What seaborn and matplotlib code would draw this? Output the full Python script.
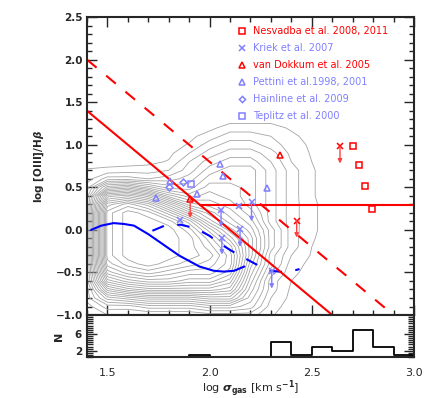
import numpy as np
import matplotlib
matplotlib.use('Agg')
import matplotlib.pyplot as plt
import seaborn as sns
from matplotlib.ticker import MultipleLocator, FixedLocator

# ---- data ----

# SDSS density grid (contour levels), x = log sigma, y = log [OIII]/Hb
grid_x = [1.4, 1.5, 1.6, 1.7, 1.8, 1.9, 2.0, 2.1, 2.2, 2.3, 2.4, 2.5, 2.6]
grid_y = [1.3, 1.2, 1.1, 1.0, 0.9, 0.8, 0.7, 0.6, 0.5, 0.4, 0.3, 0.2, 0.1,
          0.0, -0.1, -0.2, -0.3, -0.4, -0.5, -0.6, -0.7, -0.8, -0.9, -1.0, -1.1]
density = [
    [0, 0, 0, 0, 0, 0, 0, 0, 0, 0, 0, 0, 0],
    [0, 0, 0, 0, 0, 0, 0.2, 1, 1, 1, 0.3, 0, 0],
    [0, 0, 0, 0, 0, 0.2, 1, 2, 2, 1.5, 0.8, 0, 0],
    [0, 0, 0, 0, 0, 0.6, 2, 3, 3, 2, 1, 0.3, 0],
    [0, 0, 0, 0, 0.2, 1.5, 3, 4, 4, 3, 1.2, 0.4, 0],
    [0, 0, 0, 0.2, 0.6, 2.5, 4, 5, 5, 3.5, 1.5, 0.5, 0],
    [0.6, 0.8, 1, 1, 1.5, 3, 5, 6, 6, 4, 2, 0.6, 0],
    [1, 3, 3, 2.5, 3, 4, 6, 6, 6, 4, 2, 0.6, 0],
    [2, 8, 9, 7, 5, 5, 7, 7, 6, 4, 2, 0.6, 0],
    [3, 14, 15, 13, 9, 7, 8, 7, 6, 4, 2, 0.6, 0],
    [3, 18, 20, 18, 14, 10, 9, 8, 6, 4, 2, 0.7, 0],
    [3, 20, 22, 21, 18, 14, 11, 9, 7, 4, 2, 0.7, 0],
    [3, 20, 22, 22, 21, 18, 13, 10, 8, 4, 2, 0.7, 0],
    [3, 20, 22, 22, 22, 20, 16, 12, 9, 5, 2, 0.7, 0],
    [3, 20, 22, 22, 22, 21, 18, 14, 10, 5, 2, 0.6, 0],
    [3, 20, 22, 22, 22, 21, 19, 16, 10, 5, 2, 0.5, 0],
    [3, 20, 22, 22, 22, 21, 20, 17, 10, 4, 1.5, 0.4, 0],
    [3, 19, 21, 22, 21, 20, 19, 17, 9, 4, 1, 0.2, 0],
    [3, 17, 19, 20, 19, 18, 18, 16, 8, 3, 0.8, 0, 0],
    [3, 14, 16, 17, 17, 16, 16, 14, 7, 2, 0.5, 0, 0],
    [2, 10, 12, 13, 13, 13, 13, 12, 6, 2, 0.3, 0, 0],
    [2, 6, 7, 8, 8, 8, 9, 9, 5, 1.5, 0.2, 0, 0],
    [1, 3, 3, 4, 4, 4, 5, 5, 4, 1, 0, 0, 0],
    [1, 1.5, 1.5, 1.5, 1.5, 1.5, 2, 2, 2, 0.6, 0, 0, 0],
    [0.5, 0.5, 0.5, 0.5, 0.5, 0.5, 0.8, 0.8, 1, 0.3, 0, 0, 0],
]

# blue median curves
med_x = [1.42, 1.47, 1.53, 1.58, 1.63, 1.70, 1.76, 1.85, 1.95, 2.02, 2.07, 2.12, 2.17]
med_y = [0.0, 0.05, 0.08, 0.07, 0.05, -0.05, -0.15, -0.30, -0.43, -0.48, -0.49, -0.48, -0.43]
med2_x = [1.72, 1.79, 1.86, 1.93, 2.00, 2.05, 2.11, 2.17, 2.24, 2.30, 2.38, 2.44]
med2_y = [-0.01, 0.06, 0.06, 0.02, -0.07, -0.16, -0.25, -0.33, -0.42, -0.48, -0.50, -0.46]

# red dividing lines
red_solid_x = [1.4, 2.6]
red_solid_y = [1.4, -1.0]
red_dash_x = [1.4, 2.9]
red_dash_y = [2.0, -1.0]
red_horiz_x = [1.955, 3.0]
red_horiz_y = [0.29, 0.29]

# literature points
nesv_x = [2.704, 2.733, 2.759, 2.795]
nesv_y = [0.98, 0.76, 0.52, 0.24]
nesv_lim_x = [2.638, 2.426]
nesv_lim_y = [0.98, 0.11]
nesv_lim_len = [0.20, 0.20]
kriek_x = [1.855, 2.144, 2.205, 2.056, 2.060, 2.149, 2.304]
kriek_y = [0.12, 0.28, 0.33, 0.235, -0.09, 0.01, -0.48]
kriek_len = [0, 0, 0.23, 0.20, 0.20, 0.21, 0.21]
vdok_x = [2.345, 1.905]
vdok_y = [0.88, 0.36]
vdok_len = [0, 0.22]
pett_x = [2.051, 2.064, 1.940, 1.806, 1.738, 2.280]
pett_y = [0.78, 0.63, 0.42, 0.58, 0.38, 0.49]
hain_x = [1.871, 1.803]
hain_y = [0.56, 0.50]
tepl_x = [1.909]
tepl_y = [0.54]

# histogram of the high-z sample
hist_edges = [1.4, 1.5, 1.6, 1.7, 1.8, 1.9, 2.0, 2.1, 2.2, 2.3, 2.4, 2.5, 2.6, 2.7, 2.8, 2.9, 3.0]
hist_counts = [0, 0, 0, 0, 0, 1, 0, 0, 0, 4, 1, 3, 2, 7, 3, 1]

legend_labels = ['Nesvadba et al. 2008, 2011', 'Kriek et al. 2007', 'van Dokkum et al. 2005',
                 'Pettini et al.1998, 2001', 'Hainline et al. 2009', 'Teplitz et al. 2000']

# ---- style ----
RED = '#ff0000'
LBLUE = '#8080ff'
BLUE = '#0000ff'

sns.set_style('ticks')
plt.rcParams['font.family'] = ['DejaVu Sans']
plt.rcParams['font.weight'] = 'bold'
plt.rcParams['axes.linewidth'] = 1.5

fig = plt.figure(figsize=(4.36, 3.98), dpi=100)
ax = fig.add_axes([0.1995, 0.2085, 0.75, 0.7485])
axh = fig.add_axes([0.1995, 0.103, 0.75, 0.1055])

# contours
ax.contour(grid_x, grid_y, np.array(density), levels=np.arange(0.5, 22, 1),
           colors='#a4a4a4', linewidths=0.6)

# blue curves
sns.lineplot(x=med_x, y=med_y, ax=ax, color=BLUE, lw=1.5, sort=False)
sns.lineplot(x=med2_x, y=med2_y, ax=ax, color=BLUE, lw=1.5, sort=False, dashes=False,
             linestyle=(0, (6, 6.5)))

# red lines
ax.plot(red_solid_x, red_solid_y, color=RED, lw=1.5)
ax.plot(red_dash_x, red_dash_y, color=RED, lw=1.5, linestyle=(0, (6, 6)))
ax.plot(red_horiz_x, red_horiz_y, color=RED, lw=1.5)


def arrows(xs, ys, lens, color):
    for x, y, l in zip(xs, ys, lens):
        if l > 0:
            ax.annotate('', xy=(x, y - l), xytext=(x, y),
                        arrowprops=dict(arrowstyle='-|>', color=color, lw=1.0,
                                        mutation_scale=6, shrinkA=0, shrinkB=0))


arrows(kriek_x, kriek_y, kriek_len, LBLUE)
arrows(nesv_lim_x, nesv_lim_y, nesv_lim_len, '#ff4040')
arrows(vdok_x, vdok_y, vdok_len, '#ff4040')

mk = dict(linestyle='none', mfc='none', mew=1.1)
h1, = ax.plot(nesv_x, nesv_y, marker='s', ms=5, color=RED, **mk)
ax.plot(nesv_lim_x, nesv_lim_y, marker='x', ms=5, color=RED, **mk)
h2, = ax.plot(kriek_x, kriek_y, marker='x', ms=5, color=LBLUE, **mk)
h3, = ax.plot(vdok_x, vdok_y, marker='^', ms=5, color=RED, **mk)
h4, = ax.plot(pett_x, pett_y, marker='^', ms=5, color=LBLUE, **mk)
h5, = ax.plot(hain_x, hain_y, marker='D', ms=3.5, color=LBLUE, **mk)
h6, = ax.plot(tepl_x, tepl_y, marker='s', ms=5, color=LBLUE, **mk)

ax.legend([h1, h2, h3, h4, h5, h6], legend_labels, loc='upper left',
          bbox_to_anchor=(0.445, 0.985), frameon=False,
          handlelength=1.0, handletextpad=0.6, labelspacing=0.72, borderpad=0,
          labelcolor=[RED, LBLUE, RED, LBLUE, LBLUE, LBLUE], markerscale=0.9,
          prop=dict(size=7, weight='normal'))

ax.set_xlim(1.4, 3.0)
ax.set_ylim(-1.0, 2.5)
ax.xaxis.set_major_locator(MultipleLocator(0.5))
ax.xaxis.set_minor_locator(MultipleLocator(0.1))
ax.yaxis.set_major_locator(MultipleLocator(0.5))
ax.yaxis.set_minor_locator(MultipleLocator(0.1))
ax.tick_params(which='both', direction='in', top=True, right=True, width=1.0)
ax.tick_params(which='major', length=7)
ax.tick_params(which='minor', length=3.5)
ax.tick_params(axis='x', labelbottom=False)
ax.tick_params(axis='y', labelsize=7.5, pad=3)
ax.set_yticklabels([f'{v:.1f}'.replace('-', '\u2212') for v in ax.get_yticks()])
ax.set_ylabel(r'log [OIII]/H$\beta$', fontsize=7.5, fontweight='bold', labelpad=7)

# histogram
centers = [(a + b) / 2 for a, b in zip(hist_edges[:-1], hist_edges[1:])]
sns.histplot(x=centers, weights=hist_counts, bins=hist_edges, element='step', fill=False,
             color='black', lw=1.3, ax=axh)
axh.set_xlim(1.4, 3.0)
axh.set_ylim(0.5, 10.5)
axh.yaxis.set_major_locator(FixedLocator([2, 6]))
axh.yaxis.set_minor_locator(MultipleLocator(0.5))
axh.tick_params(which='both', direction='in', top=False, right=True, width=1.0)
axh.tick_params(axis='x', which='both', length=0, labelsize=8, pad=8)
axh.tick_params(axis='y', which='major', length=7, labelsize=7.5)
axh.tick_params(axis='y', which='minor', length=4)
axh.set_xticks([1.5, 2.0, 2.5, 3.0])
axh.set_xticklabels(['1.5', '2.0', '2.5', '3.0'], fontweight='normal')
axh.set_ylabel('N', fontsize=8, fontweight='bold', labelpad=8)
axh.set_xlabel(r'log $\sigma_{\rm gas}$ [km s$^{-1}$]', fontsize=8, fontweight='normal',
               labelpad=0)

fig.savefig('out.png', dpi=100)
